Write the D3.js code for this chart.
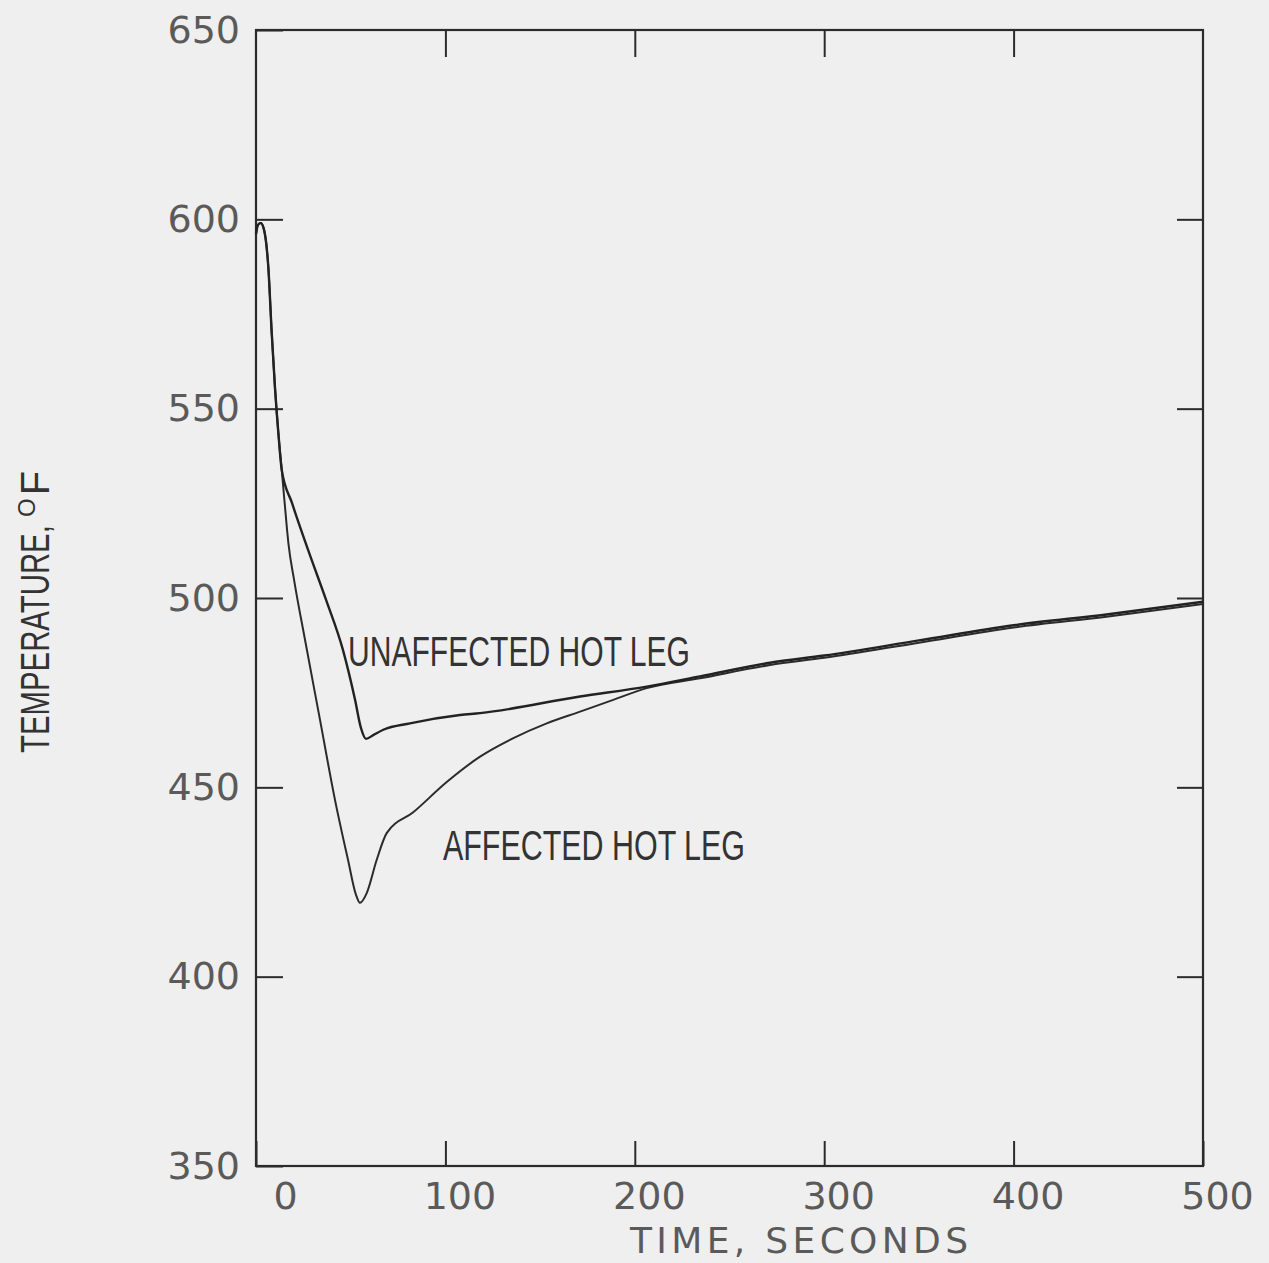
<!DOCTYPE html>
<html>
<head>
<meta charset="utf-8">
<script src="https://cdn.jsdelivr.net/npm/d3@7"></script>
<style>
  html, body { margin: 0; padding: 0; background: #efefef; }
  svg { display: block; }
</style>
</head>
<body>
<svg id="chart" width="1269" height="1263"></svg>
<script>
// ---- data ----
const xTicks = [0, 100, 200, 300, 400, 500];
const yTicks = [350, 400, 450, 500, 550, 600, 650];
const xTitle = "TIME, SECONDS";
const yTitle = "TEMPERATURE, ";
const seriesNames = ["UNAFFECTED HOT LEG", "AFFECTED HOT LEG"];

const timeUnaffected = [0, 1, 2.5, 4, 5.5, 6.5, 8.3, 10, 11.8, 13.6, 19.0, 27.5, 37.0, 45.9, 52.3, 55.4, 58.1, 61.9, 67.2, 81.3, 107.7, 118.3, 171.1, 206.3, 234.4, 271.4, 300, 350, 400, 450, 500];
const tempUnaffected = [596.1, 598.5, 599.0, 597.7, 593.2, 587.4, 570.0, 555.7, 543.6, 533.8, 525.1, 512.7, 499.5, 486.3, 473.1, 465.7, 462.8, 463.8, 465.2, 466.9, 469.1, 469.6, 474.0, 476.6, 479.3, 482.9, 484.8, 488.8, 492.8, 495.7, 499.0];

const timeAffected = [0, 1, 2.5, 4, 5.5, 6.5, 8.3, 10, 11.8, 13.6, 16.4, 17.1, 20.1, 25.9, 33.8, 41.7, 48.6, 52.8, 54.9, 58.4, 63.7, 69, 83, 100.7, 118.3, 135.9, 153.5, 171.1, 188.6, 206.3, 234.4, 271.4, 300, 350, 400, 450, 500];
const tempAffected = [596.1, 598.5, 599.0, 597.7, 593.2, 587.4, 570.0, 555.7, 543.6, 533.8, 518.0, 514.5, 504.8, 488.9, 467.8, 446.7, 430.8, 421.6, 419.5, 422.0, 430.8, 437.9, 443.4, 451.4, 458.1, 463.0, 466.9, 470.0, 473.1, 476.2, 478.8, 482.3, 484.2, 488.2, 492.2, 495.1, 498.4];

// ---- layout ----
const L = 256, R = 1203, T = 30, B = 1166;
const svg = d3.select("#chart");
const x = d3.scaleLinear().domain([0, 500]).range([L, R]);
const y = d3.scaleLinear().domain([350, 650]).range([B, T]);

const ink = "#2b2b2b";
const labelInk = "#5a5a5a";
const plotFont = "'DejaVu Sans', 'Noto Sans', sans-serif";
const condFont = "'Liberation Sans Narrow', 'Liberation Sans', Arial, sans-serif";

// Left axis with labels, inward ticks
const gL = svg.append("g").attr("transform", `translate(${L},0)`)
  .call(d3.axisLeft(y).tickValues(yTicks).tickSize(-27).tickPadding(16).tickFormat(d3.format("d")));
// Right axis ticks only
const gR = svg.append("g").attr("transform", `translate(${R},0)`)
  .call(d3.axisRight(y).tickValues(yTicks.slice(1, -1)).tickSize(-26).tickFormat(""));
// Bottom axis with labels, inward ticks
const gB = svg.append("g").attr("transform", `translate(0,${B})`)
  .call(d3.axisBottom(x).tickValues(xTicks).tickSize(-25).tickPadding(16).tickFormat(d3.format("d")));
// Top axis ticks only
const gT = svg.append("g").attr("transform", `translate(0,${T})`)
  .call(d3.axisTop(x).tickValues(xTicks.slice(1, -1)).tickSize(-27).tickFormat(""));

[gL, gR, gB, gT].forEach(g => {
  g.select(".domain").remove();
  g.selectAll(".tick line").attr("stroke", ink).attr("stroke-width", 2);
});
[gL, gB].forEach(g => {
  g.selectAll(".tick text")
    .attr("fill", labelInk)
    .style("font-family", plotFont)
    .style("font-size", "38px");
});
gB.selectAll(".tick text").attr("dx", d => d === 0 ? 29 : 14);

// Frame
svg.append("rect")
  .attr("x", L).attr("y", T).attr("width", R - L).attr("height", B - T)
  .attr("fill", "none").attr("stroke", ink).attr("stroke-width", 2.2);

// Lines
const line = d3.line().x(d => x(d[0])).y(d => y(d[1])).curve(d3.curveMonotoneX);
const dataU = timeUnaffected.map((t, i) => [t, tempUnaffected[i]]);
const dataA = timeAffected.map((t, i) => [t, tempAffected[i]]);

svg.append("path").datum(dataA).attr("d", line)
  .attr("fill", "none").attr("stroke", ink).attr("stroke-width", 2).attr("stroke-linejoin", "round");
svg.append("path").datum(dataU).attr("d", line)
  .attr("fill", "none").attr("stroke", "#222").attr("stroke-width", 2.4).attr("stroke-linejoin", "round");

// Series labels
svg.append("text").text(seriesNames[0])
  .attr("x", 348).attr("y", 666)
  .attr("textLength", 342).attr("lengthAdjust", "spacingAndGlyphs")
  .style("font-family", condFont).style("font-size", "42px")
  .attr("fill", "#333");
svg.append("text").text(seriesNames[1])
  .attr("x", 443).attr("y", 860)
  .attr("textLength", 302).attr("lengthAdjust", "spacingAndGlyphs")
  .style("font-family", condFont).style("font-size", "42px")
  .attr("fill", "#333");

// X title
svg.append("text").text(xTitle)
  .attr("x", 630).attr("y", 1253)
  .attr("textLength", 338).attr("lengthAdjust", "spacing")
  .style("font-family", plotFont).style("font-size", "36px")
  .attr("fill", labelInk);

// Y title
const yt = svg.append("text")
  .attr("transform", "translate(49,753) rotate(-90)")
  .style("font-family", condFont).style("font-size", "40px")
  .attr("fill", "#333");
yt.append("tspan").text(yTitle).attr("textLength", 236).attr("lengthAdjust", "spacingAndGlyphs");
yt.append("tspan").text("O").style("font-size", "24px").attr("dy", -14);
yt.append("tspan").text("F").attr("dy", 14).attr("dx", 3);
</script>
</body>
</html>
